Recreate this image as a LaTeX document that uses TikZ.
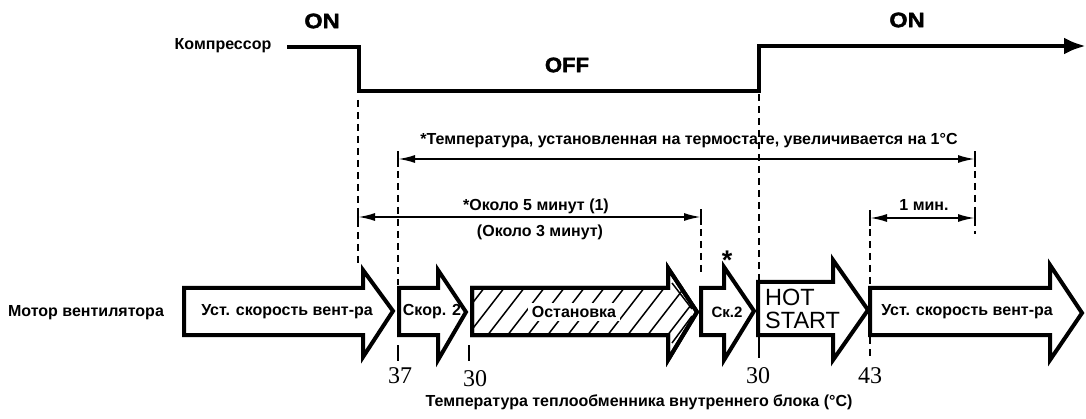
\documentclass[tikz,border=0pt]{standalone}
\usepackage{fontspec}
\usepackage{graphicx}
\setmainfont{Liberation Sans}
\newfontfamily\numfont{Liberation Serif}
\newfontfamily\heavyfont[FakeBold=1.6]{Liberation Sans Bold}
\usetikzlibrary{arrows.meta}
\begin{document}
\begin{tikzpicture}[x=1pt,y=-1pt,
  lbl/.style={font=\bfseries\fontsize{16}{18}\selectfont, inner sep=0pt},
  onoff/.style={font=\heavyfont\fontsize{21}{23}\selectfont, inner sep=0pt},
  hot/.style={font=\fontsize{23.5}{21}\selectfont, inner sep=0pt, anchor=west},
  num/.style={font=\numfont\fontsize{24}{26}\selectfont, inner sep=0pt},
  fanbox/.style={draw, line width=4pt, fill=white, miter limit=10},
  dimline/.style={line width=2pt, {Latex[length=17pt,width=8pt]}-{Latex[length=17pt,width=8pt]}},
  guide/.style={line width=1.8pt, dash pattern=on 7pt off 5pt},
  barline/.style={line width=2pt},
  compline/.style={line width=4.5pt, -{Latex[length=22pt,width=17pt]}},
  hatchline/.style={line width=1.5pt}
]
\useasboundingbox (0,0) rectangle (1086,419);

% ---------- compressor ----------
\node[lbl] (ncomp) at (223,46) {Компрессор};
\node[onoff] (on1) at (322,21) {\scalebox{1.12}[1]{ON}};
\node[onoff] (off) at (567,65) {\scalebox{1.05}[1]{OFF}};
\node[onoff] (on2) at (907,20) {\scalebox{1.12}[1]{ON}};
\coordinate (c0) at (287,47);
\coordinate (c1) at (359,47);
\coordinate (c2) at (359,91);
\coordinate (c3) at (759,91);
\coordinate (c4) at (759,46);
\coordinate (c5) at (1086,46);
\draw[compline] (c0) -- (c1) -- (c2) -- (c3) -- (c4) -- (c5);

% ---------- guide (dashed) lines ----------
\coordinate (g1t) at (358,100);  \coordinate (g1b) at (358,266);
\coordinate (g2t) at (398,159);  \coordinate (g2b) at (398,285);
\coordinate (g3t) at (701,217);  \coordinate (g3b) at (701,272);
\coordinate (g4t) at (759,94);   \coordinate (g4b) at (759,280);
\coordinate (g5t) at (870,217);  \coordinate (g5b) at (870,285);
\coordinate (g6t) at (975,159);  \coordinate (g6b) at (975,234);
\draw[guide] (g1t) -- (g1b);
\draw[guide] (g2t) -- (g2b);
\draw[guide] (g3t) -- (g3b);
\draw[guide] (g4t) -- (g4b);
\draw[guide] (g5t) -- (g5b);
\draw[guide] (g6t) -- (g6b);

% ---------- dimension arrows ----------
\coordinate (d1a) at (398,159); \coordinate (d1b) at (975,159);
\coordinate (d2a) at (358,217); \coordinate (d2b) at (701,217);
\coordinate (d3a) at (870,218); \coordinate (d3b) at (975,218);
\draw[dimline] (d1a) -- (d1b);
\draw[dimline] (d2a) -- (d2b);
\draw[dimline] (d3a) -- (d3b);
\foreach \p in {d1a,d1b,d2a,d2b,d3a,d3b}
  \draw[barline] ([yshift=-8pt]\p) -- ([yshift=8pt]\p);

\node[lbl] (t1) at (689,141) {*Температура, установленная на термостате, увеличивается на 1°C};
\node[lbl] (t2) at (536,206) {*Около 5 минут (1)};
\node[lbl] (t3) at (540,232) {(Около 3 минут)};
\node[lbl] (t4) at (924,205) {1 мин.};

% ---------- fan motor arrows ----------
\node[lbl] (nfan) at (86,313) {Мотор вентилятора};

\draw[fanbox] (184,288) -- (363,288) -- (363,270) -- (393,311) -- (363,357) -- (363,335) -- (184,335) -- cycle;
\node[lbl] (a1) at (287,312) {Уст. скорость вент-ра};

\draw[fanbox] (399,288) -- (438,288) -- (438,270) -- (466,312) -- (438,360) -- (438,335) -- (399,335) -- cycle;
\node[lbl] (a2) at (432,312) {Скор. 2};

% hatched arrow
\draw[fanbox] (472,288) -- (668,288) -- (668,268) -- (697,312) -- (668,360) -- (668,335) -- (472,335) -- cycle;
\begin{scope}
  \clip (472,288) -- (668,288) -- (668,268) -- (697,312) -- (668,360) -- (668,335) -- (472,335) -- cycle;
  \foreach \i in {0,...,13}
    \draw[hatchline] (440+\i*20,345) -- ++(48,-62);
\end{scope}
\draw[line width=1.5pt] (672,283) -- (692,309);
\draw[line width=1.5pt] (692,316) -- (672,343);
\draw[line width=4pt, miter limit=10] (472,288) -- (668,288) -- (668,268) -- (697,312) -- (668,360) -- (668,335) -- (472,335) -- cycle;
\node[lbl, fill=white, inner xsep=4pt, inner ysep=3pt] (a3) at (574,312) {Остановка};

\draw[fanbox] (701,288) -- (724,288) -- (724,267) -- (754,311) -- (724,360) -- (724,335) -- (701,335) -- cycle;
\node[lbl, font=\bfseries\fontsize{15}{17}\selectfont] (a4) at (727,312) {Ск.2};

\draw[fanbox] (758,282) -- (833,282) -- (833,260) -- (868,310) -- (833,360) -- (833,335) -- (758,335) -- cycle;
\node[hot] (a5a) at (765,297) {HOT};
\node[hot] (a5b) at (765,320) {START};

\draw[fanbox] (870,288) -- (1050,288) -- (1050,265) -- (1082,313) -- (1050,360) -- (1050,335) -- (870,335) -- cycle;
\node[lbl] (a6) at (967,312) {Уст. скорость вент-ра};

% asterisk
\node[font=\bfseries\fontsize{27}{29}\selectfont, inner sep=0pt, anchor=base] (star) at (727,270) {*};

% ---------- ticks and temperatures ----------
\coordinate (k1t) at (398,345); \coordinate (k1b) at (398,361);
\coordinate (k2t) at (469,345); \coordinate (k2b) at (469,361);
\coordinate (k3t) at (759,337); \coordinate (k3b) at (759,358);
\coordinate (k4t) at (870,337); \coordinate (k4b) at (870,358);
\draw[barline] (k1t) -- (k1b);
\draw[barline] (k2t) -- (k2b);
\draw[barline] (k3t) -- (k3b);
\draw[guide] (k4t) -- (k4b);

\node[num] (v1) at (400,376) {37};
\node[num] (v2) at (475,379) {30};
\node[num] (v3) at (758,376) {30};
\node[num] (v4) at (870,376) {43};

\node[lbl] (xt) at (639,402) {Температура теплообменника внутреннего блока (°C)};
\end{tikzpicture}
\end{document}
